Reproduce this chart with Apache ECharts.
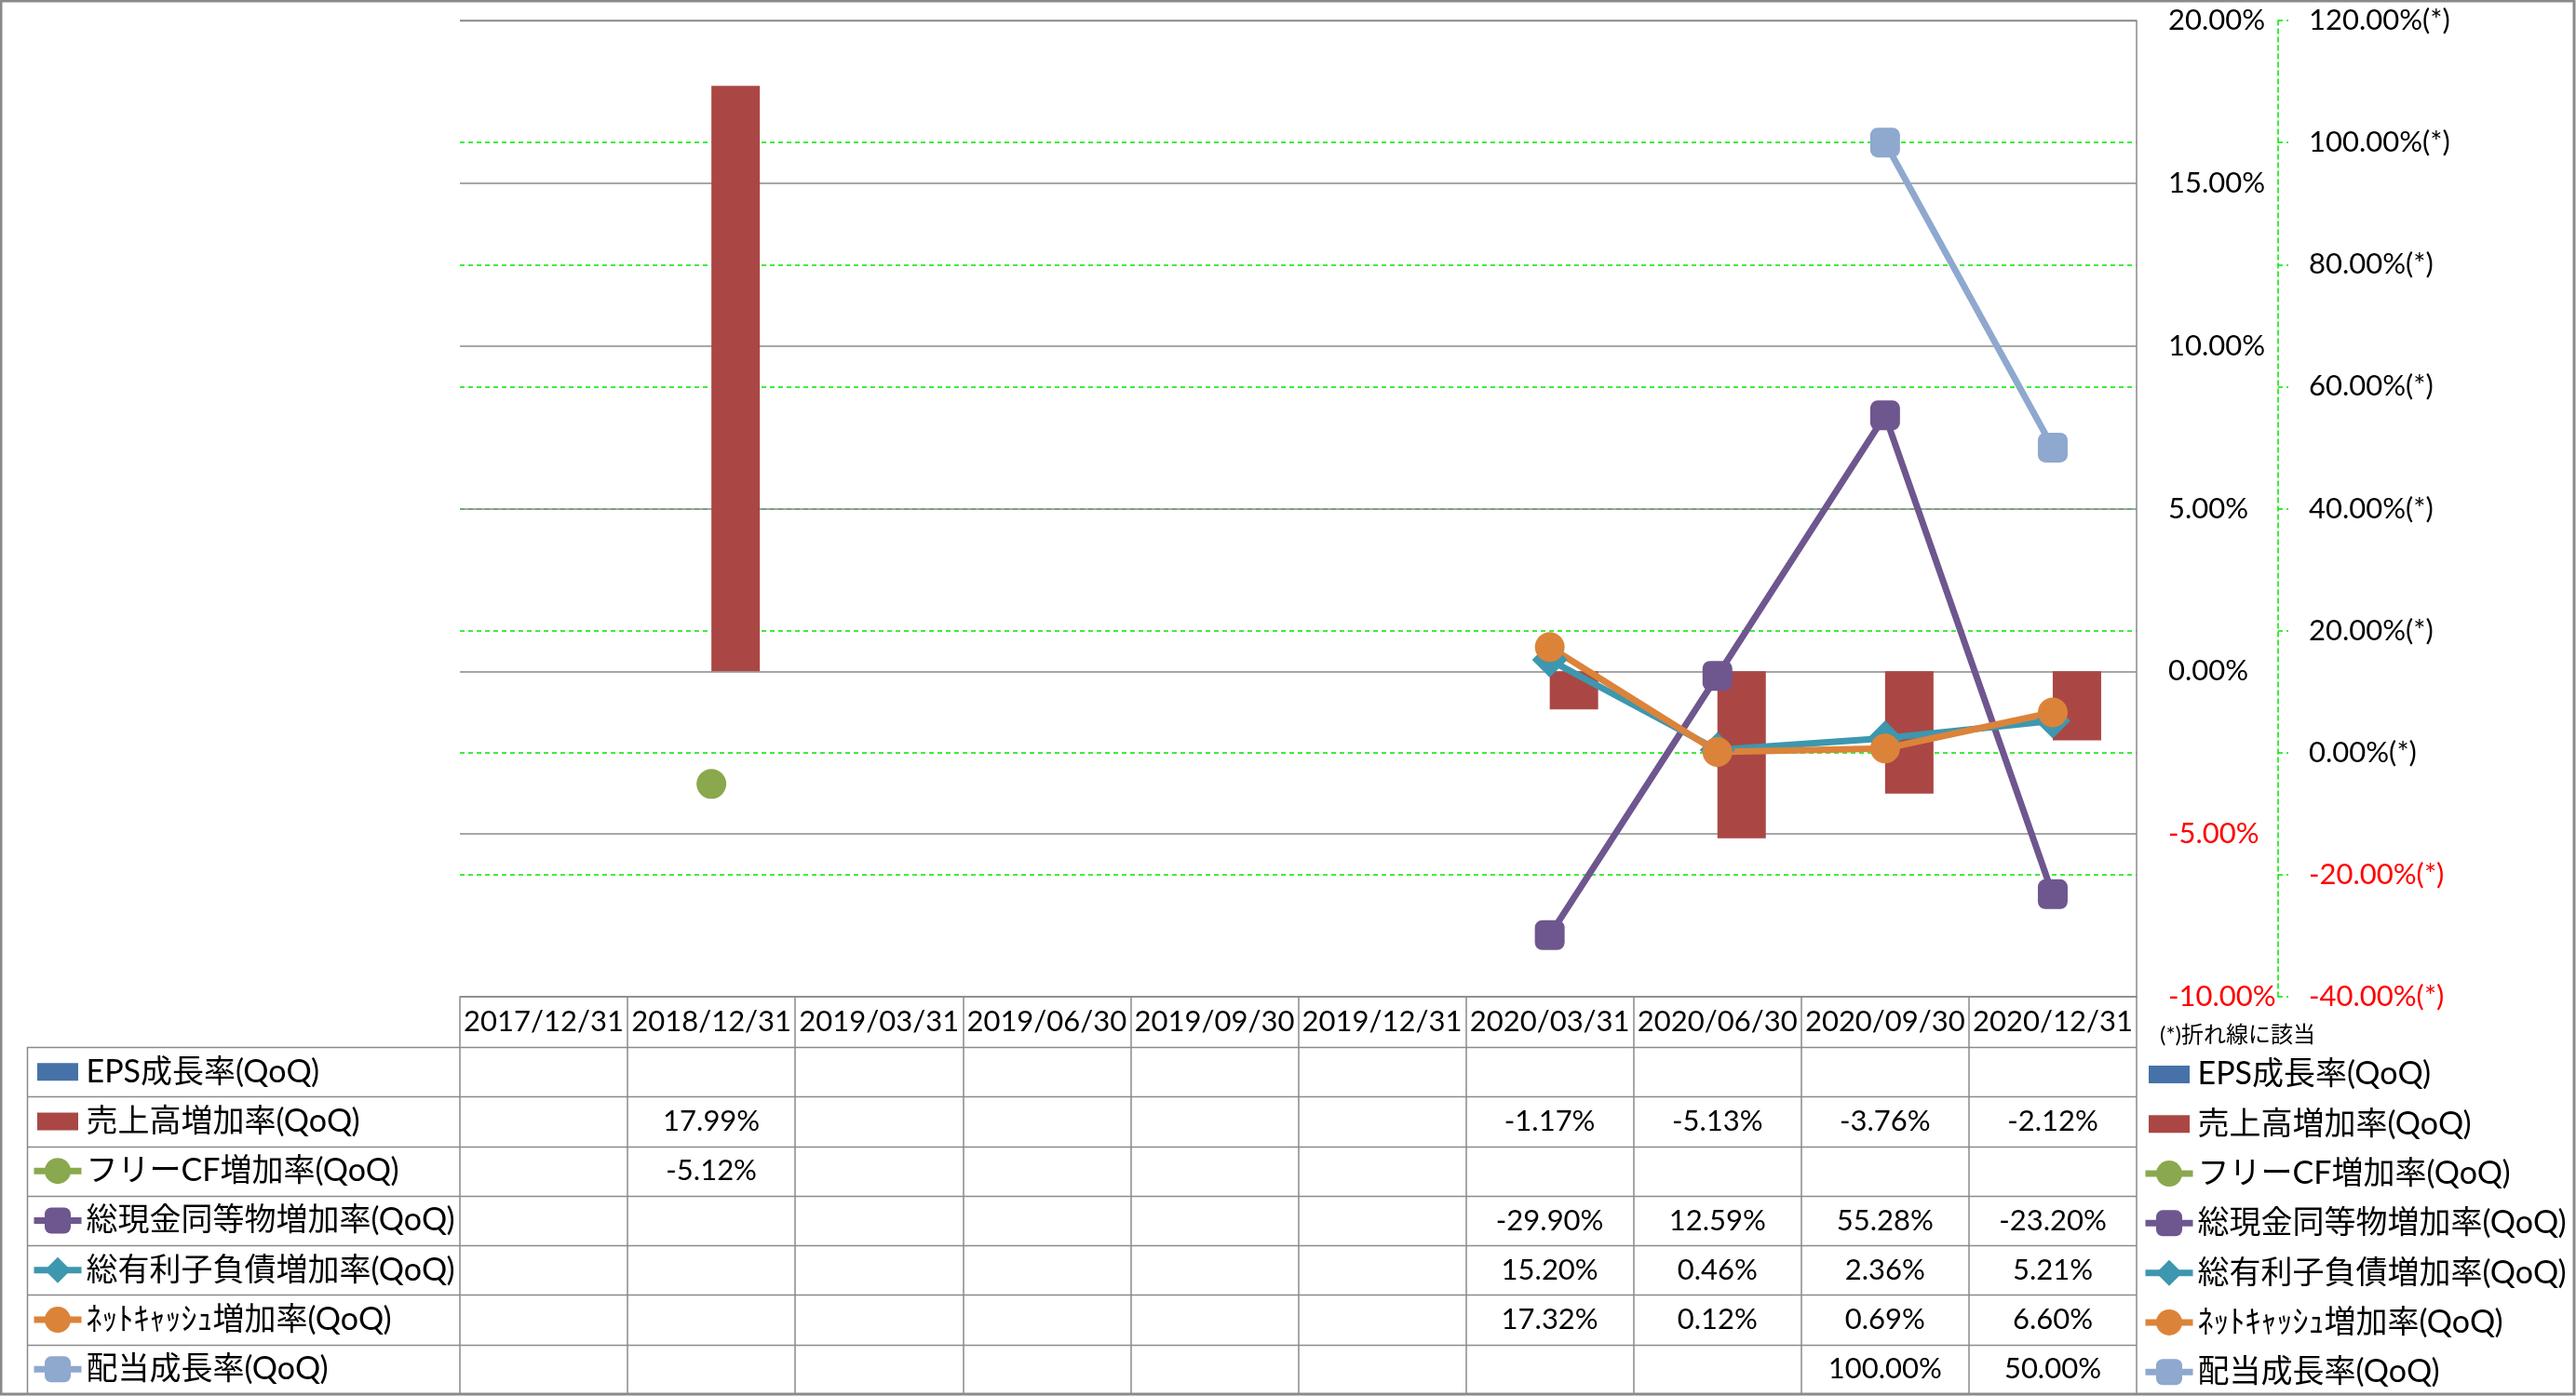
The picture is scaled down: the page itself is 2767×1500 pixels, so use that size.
<!DOCTYPE html>
<html>
<head>
<meta charset="utf-8">
<script src="https://cdn.jsdelivr.net/npm/echarts@6/dist/echarts.min.js"></script>
<style>
html,body{margin:0;padding:0;background:#fff;}
#chart{width:2767px;height:1500px;}
</style>
</head>
<body>
<div id="chart"></div>
<script>
// ---- data ----
const categories = ['2017/12/31','2018/12/31','2019/03/31','2019/06/30','2019/09/30','2019/12/31','2020/03/31','2020/06/30','2020/09/30','2020/12/31'];
const epsGrowth      = [null, null, null, null, null, null, null, null, null, null];
const salesGrowth    = [null, 17.99, null, null, null, null, -1.17, -5.13, -3.76, -2.12];
const freeCfGrowth   = [null, -5.12, null, null, null, null, null, null, null, null];
const cashGrowth     = [null, null, null, null, null, null, -29.90, 12.59, 55.28, -23.20];
const debtGrowth     = [null, null, null, null, null, null, 15.20, 0.46, 2.36, 5.21];
const netCashGrowth  = [null, null, null, null, null, null, 17.32, 0.12, 0.69, 6.60];
const dividendGrowth = [null, null, null, null, null, null, null, null, 100.00, 50.00];
const seriesNames = ['EPS成長率(QoQ)','売上高増加率(QoQ)','フリーCF増加率(QoQ)','総現金同等物増加率(QoQ)','総有利子負債増加率(QoQ)','ﾈｯﾄｷｬｯｼｭ増加率(QoQ)','配当成長率(QoQ)'];
const primaryAxis = {min: -10, max: 20, interval: 5};
const secondaryAxis = {min: -40, max: 120, interval: 20};
const noteText = '(*)折れ線に該当';

// ---- styles ----
const C = {
  eps: '#4672A8', sales: '#AA4744', fcf: '#8AA84E', cash: '#6E568E',
  debt: '#3D97AE', net: '#DC833A', div: '#8EA8CE'
};
const GRAY = '#8A8A8A';
const GREEN = '#00E600';
const latin = 'Lato, "Noto Sans CJK JP", sans-serif';

const GRID = {left: 494, right: 2767 - 2295, top: 22, bottom: 1500 - 1071};
const ROW_TOP = 1125, ROW_H = (1498 - 1125) / 7;
const barIcon = 'path://M0,0M51,34M3.5,7.5L47.5,7.5L47.5,26.5L3.5,26.5Z';

const allSeriesData = [epsGrowth, salesGrowth, freeCfGrowth, cashGrowth, debtGrowth, netCashGrowth, dividendGrowth];

function legendCfg(left, top) {
  return {
    left: left, top: top, orient: 'vertical', padding: 0,
    itemWidth: 51, itemHeight: 35, itemGap: ROW_H - 35,
    selectedMode: false,
    textStyle: {fontFamily: latin, fontSize: 34, color: '#000', lineHeight: 35},
    lineStyle: {width: 7},
    data: seriesNames.map((n, i) => i < 2 ? {name: n, icon: barIcon} : {name: n})
  };
}

const chart = echarts.init(document.getElementById('chart'));
function pctFmt(v) { return Number(v).toFixed(2) + '%'; }

const lineCommon = (name, data, color, symbol, size) => ({
  name, type: 'line', yAxisIndex: 1, data,
  symbol, symbolSize: size,
  lineStyle: {color, width: 7},
  itemStyle: {color},
  z: 3
});

chart.setOption({
  animation: false,
  backgroundColor: '#fff',
  grid: GRID,
  legend: [legendCfg(2301, 1155 - 18), legendCfg(33, ROW_TOP + ROW_H / 2 - 17.5)],
  xAxis: {
    type: 'category', data: categories, boundaryGap: true, position: 'bottom',
    axisLine: {show: true, onZero: false, lineStyle: {color: GRAY, width: 1.5}},
    axisTick: {show: true, inside: false, interval: 0, alignWithLabel: false, length: 1498 - 1071, lineStyle: {color: GRAY, width: 1.5}},
    axisLabel: {interval: 0, margin: 11, fontFamily: latin, fontSize: 31, color: '#000'},
    splitLine: {show: false}
  },
  yAxis: [
    {
      type: 'value', position: 'right', z: 1, min: primaryAxis.min, max: primaryAxis.max, interval: primaryAxis.interval,
      axisLine: {show: true, onZero: false, lineStyle: {color: GRAY, width: 1.5}},
      axisTick: {show: false},
      axisLabel: {margin: 34, fontFamily: latin, fontSize: 31, formatter: pctFmt,
        color: v => (parseFloat(v) < 0 ? '#FF0000' : '#000')},
      splitLine: {show: true, lineStyle: {color: GRAY, width: 1.5}}
    },
    {
      type: 'value', position: 'right', offset: 2447 - 2295, z: 0,
      min: secondaryAxis.min, max: secondaryAxis.max, interval: secondaryAxis.interval,
      axisLine: {show: true, onZero: false, lineStyle: {color: GREEN, width: 1.5, type: [5, 4]}},
      axisTick: {show: true, length: 11, lineStyle: {color: GREEN, width: 1.5, type: [5, 4]}},
      axisLabel: {margin: 33, fontFamily: latin, fontSize: 31, formatter: v => pctFmt(v) + '(*)',
        color: v => (parseFloat(v) < 0 ? '#FF0000' : '#000')},
      splitLine: {show: true, showMinLine: false, showMaxLine: false, lineStyle: {color: GREEN, width: 1.5, type: [5, 4]}}
    }
  ],
  series: [
    {name: seriesNames[0], type: 'bar', data: epsGrowth, barWidth: 52, barGap: '0%', itemStyle: {color: C.eps}},
    {name: seriesNames[1], type: 'bar', data: salesGrowth, barWidth: 52, barGap: '0%', itemStyle: {color: C.sales}},
    lineCommon(seriesNames[2], freeCfGrowth, C.fcf, 'circle', 32),
    lineCommon(seriesNames[3], cashGrowth, C.cash, 'roundRect', 32),
    lineCommon(seriesNames[4], debtGrowth, C.debt, 'diamond', 38),
    lineCommon(seriesNames[5], netCashGrowth, C.net, 'circle', 32),
    lineCommon(seriesNames[6], dividendGrowth, C.div, 'roundRect', 32)
  ]
});

// ---- data table (cells placed via the category axis) ----
const graphics = [];
// outer border
graphics.push({type: 'rect', shape: {x: 1, y: 1, width: 2764, height: 1497}, style: {fill: null, stroke: GRAY, lineWidth: 3}, silent: true});
// top gridline (primary max) drawn over the secondary one
graphics.push({type: 'line', shape: {x1: 494, y1: 22.5, x2: 2295, y2: 22.5}, style: {stroke: GRAY, lineWidth: 1.5}, silent: true});
// horizontal row lines
for (let r = 0; r < 7; r++) {
  const y = Math.round(ROW_TOP + r * ROW_H) + 0.5;
  graphics.push({type: 'line', shape: {x1: 29, y1: y, x2: 2295, y2: y}, style: {stroke: GRAY, lineWidth: 1.5}, silent: true});
}
// left border of legend column
graphics.push({type: 'line', shape: {x1: 29.5, y1: ROW_TOP, x2: 29.5, y2: 1498}, style: {stroke: GRAY, lineWidth: 1.5}, silent: true});
// cell values
allSeriesData.forEach((arr, r) => {
  const cy = ROW_TOP + (r + 0.5) * ROW_H;
  arr.forEach((v, i) => {
    if (v === null || v === undefined) return;
    const cx = chart.convertToPixel({xAxisIndex: 0}, categories[i]);
    graphics.push({type: 'text', x: cx, y: cy, silent: true,
      style: {text: pctFmt(v), fill: '#000', font: '31px ' + latin, textAlign: 'center', textVerticalAlign: 'middle'}});
  });
});
// note
graphics.push({type: 'text', x: 2320, y: 1112, silent: true,
  style: {text: noteText, fill: '#000', font: '24px ' + latin, textAlign: 'left', textVerticalAlign: 'middle'}});

chart.setOption({graphic: graphics});
</script>
</body>
</html>
